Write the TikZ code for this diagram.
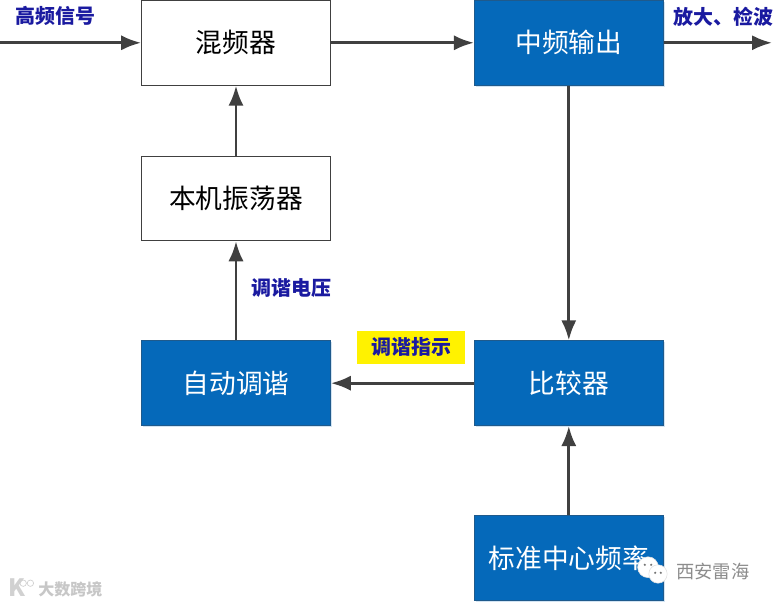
\documentclass[tikz,border=0pt]{standalone}
\usepackage{fontspec}
\setmainfont{Noto Sans CJK SC}
\usepackage{xcolor}
\usetikzlibrary{arrows.meta,positioning,shadows}
\definecolor{blockblue}{HTML}{0569BA}
\definecolor{blockedge}{HTML}{1F5A8C}
\definecolor{linegray}{HTML}{404040}
\definecolor{labelblue}{HTML}{1A1AA0}
\tikzset{
  seg/.style={draw=linegray, rectangle, minimum width=4.72cm, minimum height=2.12cm,
              inner sep=0pt, line width=0.7pt, font=\fontsize{19}{21}\selectfont},
  whitenode/.style={seg, fill=white, text=black},
  bluenode/.style={seg, draw=blockedge, fill=blockblue, text=white,
                   drop shadow={shadow xshift=1.2pt, shadow yshift=-1.2pt, fill=blockblue!18, opacity=1}},
  tag/.style={inner sep=0pt, text=labelblue, font=\fontsize{14.2}{16}\selectfont\bfseries},
  flow/.style={line width=2pt, draw=linegray, -{Latex[length=5mm, width=3.8mm]}},
  mark text/.style={inner sep=0pt, text=black!45, font=\fontsize{13}{15}\selectfont},
}
\begin{document}
\begin{tikzpicture}
  \useasboundingbox (0,0) rectangle (19.375,15.1);
  % blocks
  \node[whitenode] (mixer) at (5.9,14.03)   {混频器};
  \node[whitenode] (osc)   at (5.9,10.14)   {本机振荡器};
  \node[bluenode]  (tune)  at (5.9,5.52)    {自动调谐};
  \node[bluenode]  (ifout) at (14.22,14.03) {中频输出};
  \node[bluenode]  (comp)  at (14.22,5.52)  {比较器};
  \node[bluenode]  (ref)   at (14.22,1.15)  {标准中心频率};
  % free ends
  \coordinate (in)  at (0,14.03);
  \coordinate (out) at (19.3,14.03);
  % labels
  \node[tag] (hf)    at (1.38,14.7)  {高频信号};
  \node[tag] (amp)   at (18.08,14.68) {放大、检波};
  \node[tag] (volt)  at (7.28,7.9)   {调谐电压};
  \node[tag, fill=yellow, minimum width=2.7cm, minimum height=0.82cm] (hint) at (10.28,6.42) {调谐指示};
  % edges
  \draw[flow] (in) -- (mixer);
  \draw[flow] (mixer) -- (ifout);
  \draw[flow] (ifout) -- (out);
  \draw[flow] (osc) -- (mixer);
  \draw[flow] (tune) -- (osc);
  \draw[flow] (ifout) -- (comp);
  \draw[flow] (comp) -- (tune);
  \draw[flow] (ref) -- (comp);
  % watermarks
  \fill[white, draw=black!12] (16.2,0.92) circle (0.26);
  \fill[white, draw=black!12] (16.45,0.75) circle (0.23);
  \fill[black!55] (16.12,0.98) circle (0.03) (16.28,0.98) circle (0.03)
                  (16.38,0.78) circle (0.03) (16.52,0.78) circle (0.03);
  \node[mark text] (wm)  at (17.82,0.8) {西安雷海};
  \node[inner sep=0pt, text=black!18, font=\fontsize{17}{19}\selectfont\bfseries] (kd) at (0.42,0.4) {K};
  \draw[black!18, line width=0.5pt] (0.58,0.52) circle (0.08) (0.76,0.52) circle (0.08);
  \node[inner sep=0pt, text=black!22, font=\fontsize{11.4}{13}\selectfont\bfseries] (big) at (1.76,0.36) {大数跨境};
\end{tikzpicture}
\end{document}
